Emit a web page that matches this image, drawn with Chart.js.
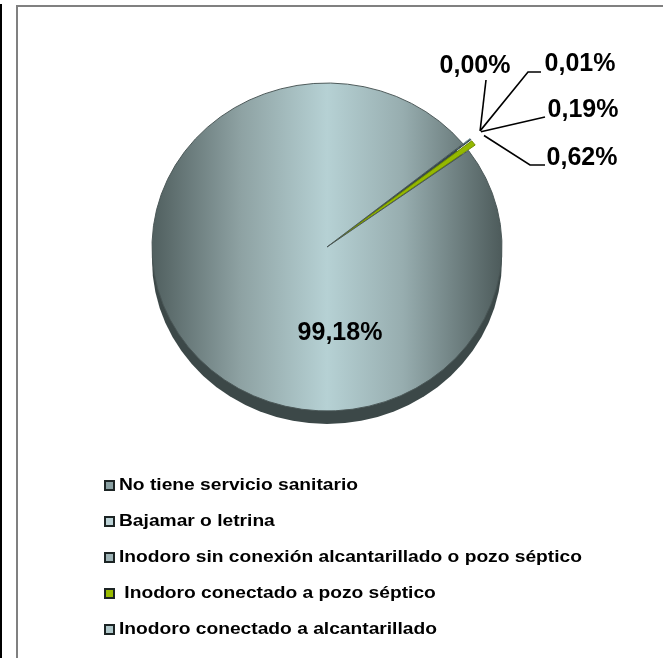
<!DOCTYPE html>
<html>
<head>
<meta charset="utf-8">
<script src="https://cdn.jsdelivr.net/npm/chart.js@4.4.1/dist/chart.umd.min.js"></script>
<style>
  html, body { margin: 0; padding: 0; background: #fff; }
  canvas { display: block; }
</style>
</head>
<body>
<canvas id="pieChart" width="663" height="658"></canvas>
<script>
// data
var categories = [
    "No tiene servicio sanitario",
    "Bajamar o letrina",
    "Inodoro sin conexión alcantarillado o pozo séptico",
    " Inodoro conectado a pozo séptico",
    "Inodoro conectado a alcantarillado"
];
var percentages = [0.00, 0.01, 0.19, 0.62, 99.18];
var percentLabels = ["0,00%", "0,01%", "0,19%", "0,62%", "99,18%"];

// styles
var sliceColors = ["#6f8587", "#bcd4d8", "#3f5866", "#94b800", "#a9c2c5"];
var sliceBorders = ["#4a5656", "#8fa7ab", "#33454f", "#6f8a00", "#4a5656"];
var legendColors = ["#8aa0a2", "#bcd2d6", "#9eb3b6", "#99bb00", "#b0c8cb"];
var sliceOffsets = [18, 18, 18, 18, 0];
var SQUASH = 0.937;
var DEPTH = 13;
var labelSpots = [
    { x: 475, y: 66, line: [[486, 80]] },
    { x: 580, y: 64, line: [[528, 72], [541, 72]] },
    { x: 583, y: 110, line: [[545, 117]] },
    { x: 582, y: 158, line: [[530, 165], [545, 165]] },
    { x: 340, y: 333, line: null }
];

var framePlugin = {
    id: "frame",
    beforeDraw: function (chart) {
        var c = chart.ctx;
        c.save();
        c.fillStyle = "#fff";
        c.fillRect(0, 0, chart.width, chart.height);
        c.fillStyle = "#000";
        c.fillRect(0, 4, 2, chart.height);
        c.fillStyle = "#808080";
        c.fillRect(16, 5, 2, chart.height);
        c.fillRect(16, 5, chart.width, 2);
        c.restore();
    }
};

var pie3dPlugin = {
    id: "pie3d",
    beforeDatasetsDraw: function (chart) {
        var arc = chart.getDatasetMeta(0).data[4];
        var c = chart.ctx;
        c.save();
        c.translate(arc.x, arc.y);
        c.scale(1, SQUASH);
        c.translate(-arc.x, -arc.y);
        c.beginPath();
        c.arc(arc.x, arc.y + DEPTH / SQUASH, arc.outerRadius, 0, Math.PI * 2);
        c.fillStyle = "#3c4848";
        c.fill();
    },
    afterDatasetsDraw: function (chart) {
        chart.ctx.restore();
    }
};

var labelPlugin = {
    id: "pctLabels",
    afterDraw: function (chart) {
        var c = chart.ctx;
        var arcs = chart.getDatasetMeta(0).data;
        c.save();
        c.font = 'bold 25px "Liberation Sans", Arial, sans-serif';
        c.textAlign = "center";
        c.textBaseline = "middle";
        c.fillStyle = "#000";
        c.strokeStyle = "#000";
        c.lineWidth = 1.6;
        arcs.forEach(function (arc, i) {
            var spot = labelSpots[i];
            if (spot.line) {
                var mid = (arc.startAngle + arc.endAngle) / 2;
                var r = arc.outerRadius + sliceOffsets[i] + 4;
                var ax = arc.x + Math.cos(mid) * r;
                var ay = arc.y + Math.sin(mid) * r * SQUASH;
                c.beginPath();
                c.moveTo(ax, ay);
                spot.line.forEach(function (p) { c.lineTo(p[0], p[1]); });
                c.stroke();
            }
            c.fillText(percentLabels[i], spot.x, spot.y);
        });
        c.restore();
    }
};

var legendPlugin = {
    id: "sideLegend",
    afterDraw: function (chart) {
        var c = chart.ctx;
        c.save();
        c.textBaseline = "middle";
        c.font = 'bold 16px "Liberation Sans", Arial, sans-serif';
        categories.forEach(function (name, i) {
            var y = 486 + i * 36;
            c.fillStyle = legendColors[i];
            c.fillRect(105, y - 5, 9, 9);
            c.strokeStyle = "#1c2424";
            c.lineWidth = 2;
            c.strokeRect(105, y - 5, 9, 9);
            c.fillStyle = "#000";
            c.save();
            c.translate(119, y);
            c.scale(1.2, 1);
            c.fillText(name, 0, 0);
            c.restore();
        });
        c.restore();
    }
};

var ctx = document.getElementById("pieChart").getContext("2d");

var pieChart = new Chart(ctx, {
    type: "pie",
    data: {
        labels: categories,
        datasets: [{
            data: percentages,
            backgroundColor: function (context) {
                var chart = context.chart;
                var area = chart.chartArea;
                if (context.dataIndex !== 4 || !area) {
                    return sliceColors[context.dataIndex];
                }
                var g = chart.ctx.createLinearGradient(area.left + 12, 0, area.right - 12, 0);
                g.addColorStop(0, "#526161");
                g.addColorStop(0.25, "#8ea2a3");
                g.addColorStop(0.5, "#b6d1d4");
                g.addColorStop(0.72, "#97adaf");
                g.addColorStop(1, "#4f5d5d");
                return g;
            },
            borderColor: sliceBorders,
            borderWidth: 1,
            hoverBorderWidth: 1,
            offset: sliceOffsets,
            hoverOffset: 0
        }]
    },
    options: {
        responsive: false,
        animation: false,
        events: [],
        rotation: 51,
        layout: { padding: { left: 142.5, right: 151.5, top: 62.5, bottom: 226.5 } },
        plugins: {
            legend: { display: false },
            tooltip: { enabled: false }
        }
    },
    plugins: [framePlugin, pie3dPlugin, labelPlugin, legendPlugin]
});
</script>
</body>
</html>
